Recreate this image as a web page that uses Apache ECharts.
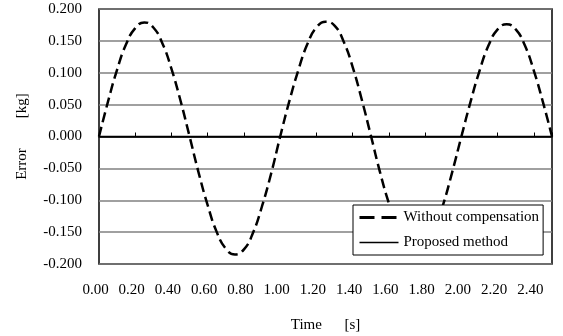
<!DOCTYPE html>
<html>
<head>
<meta charset="utf-8">
<script src="https://cdn.jsdelivr.net/npm/echarts@6/dist/echarts.min.js"></script>
<style>
html,body{margin:0;padding:0;background:#fff;}
#c{width:563px;height:336px;}
</style>
</head>
<body>
<div id="c"></div>
<script>
// Data
var time = [0.00,0.05,0.10,0.15,0.20,0.25,0.30,0.35,0.40,0.45,0.50,
  0.55,0.60,0.65,0.70,0.75,0.80,0.85,0.90,0.95,1.00,
  1.05,1.10,1.15,1.20,1.25,1.30,1.35,1.40,1.45,1.50,
  1.55,1.60,1.65,1.70,1.75,1.80,1.85,1.90,1.95,2.00,
  2.05,2.10,2.15,2.20,2.25,2.30,2.35,2.40,2.45,2.50];
var withoutCompensation = [0.000,0.055,0.105,0.145,0.170,0.179,0.171,0.146,0.106,0.056,0.000,
  -0.057,-0.108,-0.150,-0.176,-0.185,-0.177,-0.151,-0.109,-0.058,0.000,
  0.055,0.104,0.145,0.171,0.180,0.174,0.149,0.109,0.058,0.002,
  -0.055,-0.105,-0.146,-0.171,-0.180,-0.172,-0.147,-0.106,-0.055,0.000,
  0.054,0.103,0.143,0.168,0.176,0.168,0.143,0.103,0.054,0.000];
var proposedMethod = [0,0,0,0,0,0,0,0,0,0,0,
  0,0,0,0,0,0,0,0,0,0,
  0,0,0,0,0,0,0,0,0,0,
  0,0,0,0,0,0,0,0,0,0,
  0,0,0,0,0,0,0,0,0,0];
var seriesNames = ['Without compensation','Proposed method'];
var xName = 'Time      [s]';
var yName = 'Error        [kg]';

function pairs(xs, ys){ return xs.map(function(x,i){ return [x, ys[i]]; }); }

var font = 'Liberation Serif';
var chart = echarts.init(document.getElementById('c'));
chart.setOption({
  animation: false,
  backgroundColor: '#fff',
  grid: {left: 99, right: 11, top: 9, bottom: 72, show: true, borderColor: '#000', borderWidth: 1.5,
    backgroundColor: 'transparent', containLabel: false, outerBoundsMode: 'none'},
  legend: {
    orient: 'vertical', left: 353, top: 205,
    padding: [5,4,5,5], itemGap: 10, itemWidth: 39, itemHeight: 10,
    backgroundColor: '#fff', borderColor: '#000', borderWidth: 1,
    textStyle: {fontFamily: font, fontSize: 15, color: '#000'},
    itemStyle: {opacity: 0},
    data: [
      {name: seriesNames[0], lineStyle: {type: [15,7], width: 3}},
      {name: seriesNames[1], lineStyle: {width: 1.5}}
    ]
  },
  xAxis: [{
    type: 'value', min: 0, max: 2.5, interval: 0.2, position: 'bottom',
    axisLine: {show: false, onZero: false}, axisTick: {show: false}, splitLine: {show: false},
    axisLabel: {fontFamily: font, fontSize: 15, color: '#000', margin: 19, showMaxLabel: false,
      padding: [0,7,0,0],
      formatter: function(v){ return v.toFixed(2); }},
    name: xName, nameLocation: 'middle', nameGap: 54,
    nameTextStyle: {fontFamily: font, fontSize: 15, color: '#000'}
  },{
    type: 'value', min: 0, max: 2.5, interval: 0.2, position: 'top',
    axisLine: {show: true, onZero: true, lineStyle: {color: '#000', width: 1.5}},
    axisTick: {show: true, inside: false, length: 4, lineStyle: {color: '#000', width: 1}},
    axisLabel: {show: false}, splitLine: {show: false}
  }],
  yAxis: {
    type: 'value', min: -0.2, max: 0.2, interval: 0.05,
    axisLine: {show: false}, axisTick: {show: false},
    splitLine: {show: true, lineStyle: {color: '#808080', width: 1.5}},
    axisLabel: {fontFamily: font, fontSize: 15, color: '#000', margin: 17,
      formatter: function(v){ return v.toFixed(3); }},
    name: yName, nameLocation: 'middle', nameGap: 69, nameRotate: 90,
    nameTextStyle: {fontFamily: font, fontSize: 15, color: '#000'}
  },
  series: [{
    name: seriesNames[0], type: 'line', symbol: 'none', smooth: true,
    data: pairs(time, withoutCompensation),
    lineStyle: {color: '#000', width: 2.5, type: [10,5]}, itemStyle: {color: '#000'}, z: 3
  },{
    name: seriesNames[1], type: 'line', symbol: 'none',
    data: pairs(time, proposedMethod),
    lineStyle: {color: '#000', width: 1.5, type: 'solid'}, itemStyle: {color: '#000'}, z: 2
  }]
});
</script>
</body>
</html>
